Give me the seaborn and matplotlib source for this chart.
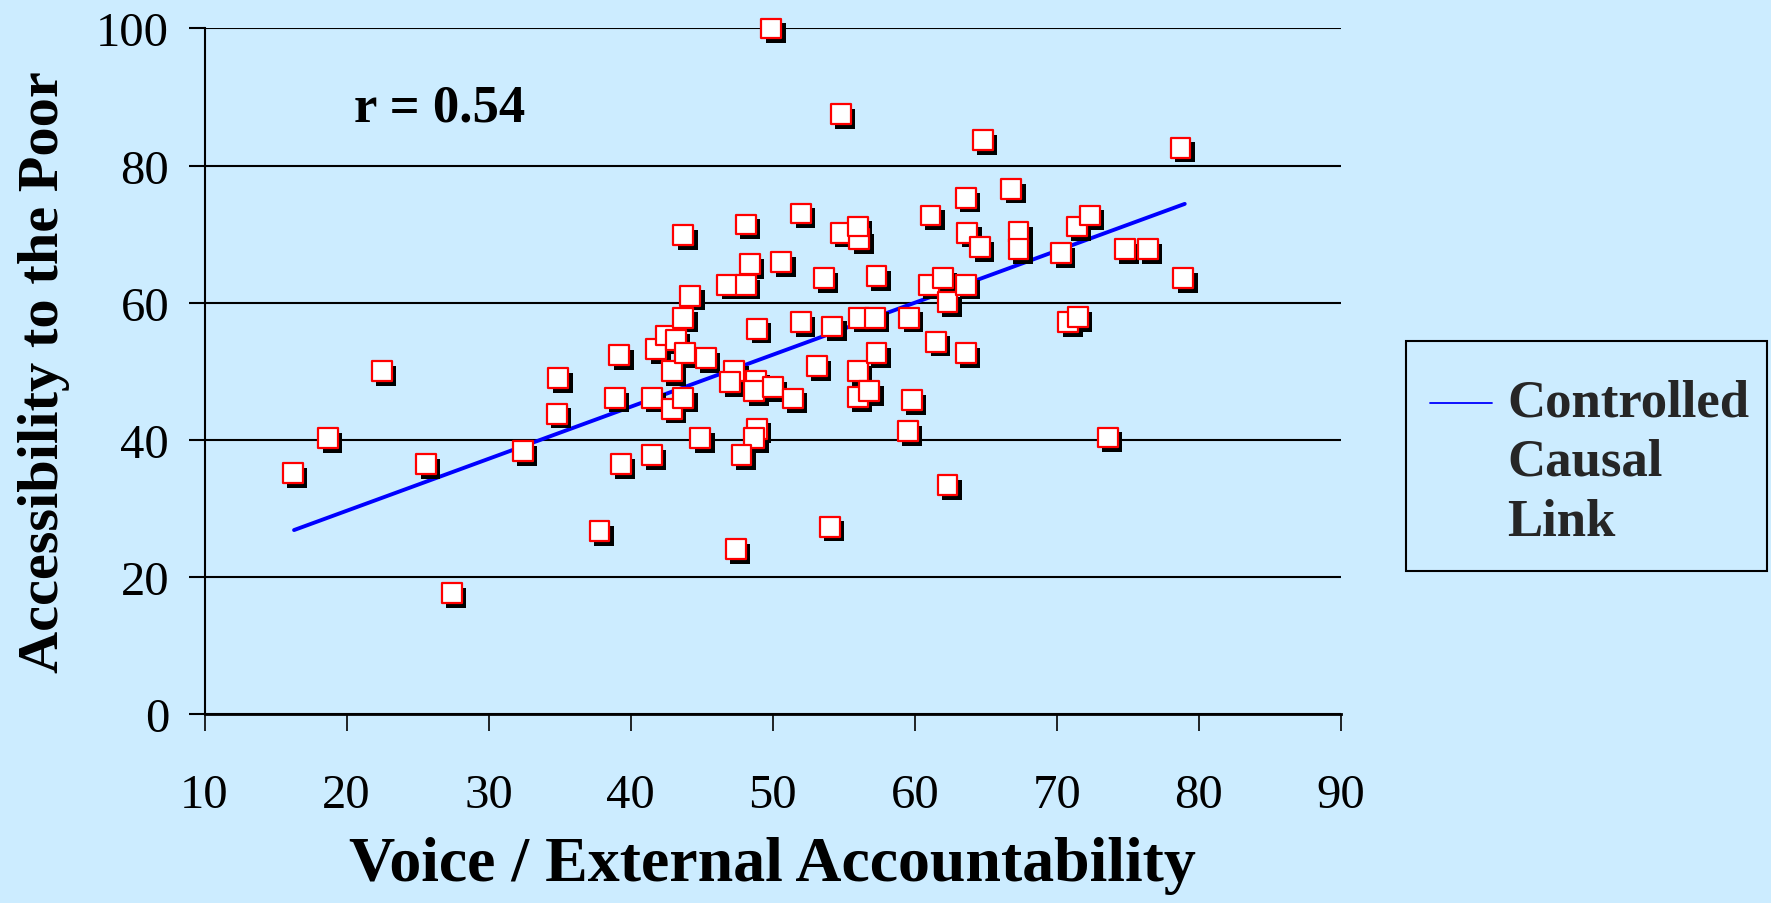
import matplotlib
matplotlib.use("Agg")
import matplotlib.pyplot as plt
import matplotlib.patheffects as pe
from matplotlib.patches import Rectangle
from matplotlib.legend_handler import HandlerLine2D
import numpy as np
import pandas as pd
import seaborn as sns

sns.set_theme(style="ticks")
plt.rcParams['font.family'] = ['Liberation Serif', 'DejaVu Serif']

# country scores
voice = [16.2, 18.7, 22.5, 25.6, 27.4, 32.4, 34.8, 34.9, 37.8, 38.9,
         39.2, 39.3, 41.5, 41.5, 41.8, 42.5, 43.2, 42.9, 42.9, 43.7,
         43.8, 43.7, 44.2, 43.7, 44.9, 45.3, 46.8, 48.1, 48.1, 48.4,
         48.9, 47.3, 47.0, 48.8, 48.7, 50.0, 51.4, 48.9, 48.7, 47.8,
         47.4, 49.9, 50.6, 52.0, 52.0, 53.1, 53.6, 54.0, 54.2, 54.8,
         54.8, 56.1, 56.0, 56.1, 56.0, 56.0, 56.8, 57.2, 57.3, 57.3,
         59.5, 59.6, 59.8, 61.1, 61.0, 62.0, 61.5, 62.3, 62.3, 63.6,
         63.7, 63.6, 63.6, 64.8, 64.6, 66.8, 67.3, 67.3, 70.3, 71.4,
         72.3, 70.8, 71.5, 73.6, 74.8, 76.4, 78.7, 78.9]
access = [35.1, 40.2, 50.0, 36.4, 17.6, 38.3, 43.8, 49.0, 26.6, 46.1,
          52.3, 36.4, 37.7, 46.1, 53.2, 55.2, 54.6, 50.0, 44.5, 46.1,
          52.6, 57.8, 61.0, 69.8, 40.2, 51.9, 62.6, 62.6, 71.4, 65.6,
          56.2, 50.0, 48.4, 48.6, 47.1, 47.7, 46.0, 41.6, 40.2, 37.7,
          24.0, 100.0, 65.9, 73.0, 57.1, 50.7, 63.6, 27.3, 56.5, 87.5,
          70.2, 69.3, 71.1, 57.8, 50.0, 46.2, 47.1, 57.8, 63.9, 52.6,
          41.2, 57.8, 45.8, 72.7, 62.6, 63.6, 54.3, 60.1, 33.4, 75.3,
          70.2, 62.6, 52.6, 83.7, 68.1, 76.6, 70.3, 67.8, 67.2, 71.1,
          72.7, 57.1, 57.9, 40.3, 67.8, 67.8, 82.6, 63.6]

# end points of the fitted line
link_x = [16.3, 79.0]
link_y = [26.8, 74.4]

x_ticks = [10, 20, 30, 40, 50, 60, 70, 80, 90]
y_ticks = [0, 20, 40, 60, 80, 100]

bg = '#CCECFF'
df = pd.DataFrame({'voice': voice, 'access': access})
dfLink = pd.DataFrame({'voice': link_x, 'access': link_y})

fig = plt.figure(figsize=(17.71, 9.04), dpi=100, facecolor=bg)
ax = fig.add_axes([0.1155, 0.2094, 0.6417, 0.758])
ax.set_facecolor(bg)

sns.lineplot(data=dfLink, x='voice', y='access', color='blue', linewidth=2.8,
             ax=ax, label='Controlled\nCausal\nLink', zorder=2)

shadow = [pe.SimplePatchShadow(offset=(3.1, -3.4), shadow_rgbFace='black', alpha=1.0), pe.Normal()]
sns.scatterplot(data=df, x='voice', y='access', marker='s', s=205, color='white',
                edgecolor='red', linewidth=1.6, ax=ax, clip_on=False, zorder=3,
                path_effects=shadow)

ax.set_xlim(10, 90)
ax.set_ylim(0, 100)
ax.set_xticks(x_ticks)
ax.set_yticks(y_ticks)
ax.yaxis.grid(True, color='black', linewidth=1.5)
ax.set_axisbelow(True)

for side in ['top', 'right']:
    ax.spines[side].set_visible(False)
ax.spines['left'].set_color('black')
ax.spines['left'].set_linewidth(1.5)
ax.spines['bottom'].set_color('black')
ax.spines['bottom'].set_linewidth(2)

ax.tick_params(axis='x', direction='out', length=12, width=1.2, pad=31, labelsize=35, colors='black')
ax.tick_params(axis='y', direction='out', length=11.5, width=1.5, pad=14, labelsize=35, colors='black')

ax.set_xlabel('Voice / External Accountability', fontsize=46, fontweight='bold', color='black')
ax.set_ylabel('Accessibility to the Poor', fontsize=42, fontweight='bold', color='black')
ax.xaxis.set_label_coords(0.5, -0.178)
ax.yaxis.set_label_coords(-0.118, 0.5)

ax.text(20.5, 86.5, 'r = 0.54', fontsize=38, fontweight='bold', va='baseline', color='black')


class FirstLineHandler(HandlerLine2D):
    # put the legend line next to the first line of the label
    def create_artists(self, legend, orig_handle, xdescent, ydescent, width, height, fontsize, trans):
        artists = super().create_artists(legend, orig_handle, xdescent, ydescent, width, height, fontsize, trans)
        for a in artists:
            a.set_ydata(np.asarray(a.get_ydata()) + 1.12 * fontsize)
            a.set_linewidth(1.3)
        return artists


handles, labels = ax.get_legend_handles_labels()
leg = ax.legend(handles, labels, loc='upper left', bbox_to_anchor=(1430 / 1771, 1 - 379 / 904),
                bbox_transform=fig.transFigure, borderaxespad=0,
                prop={'weight': 'bold', 'size': 38}, handlelength=1.17, handletextpad=0.3,
                borderpad=0, frameon=False,
                handler_map={handles[0]: FirstLineHandler()})
for t in leg.get_texts():
    t.set_linespacing(1.32)

# legend frame, tighter on the right than matplotlib's symmetric padding
fig.add_artist(Rectangle((1406 / 1771, 1 - 572 / 904), 361 / 1771, 230 / 904,
                         transform=fig.transFigure, fill=False, edgecolor='black', linewidth=1.5))

plt.savefig('out.png', dpi=100, facecolor=bg)
